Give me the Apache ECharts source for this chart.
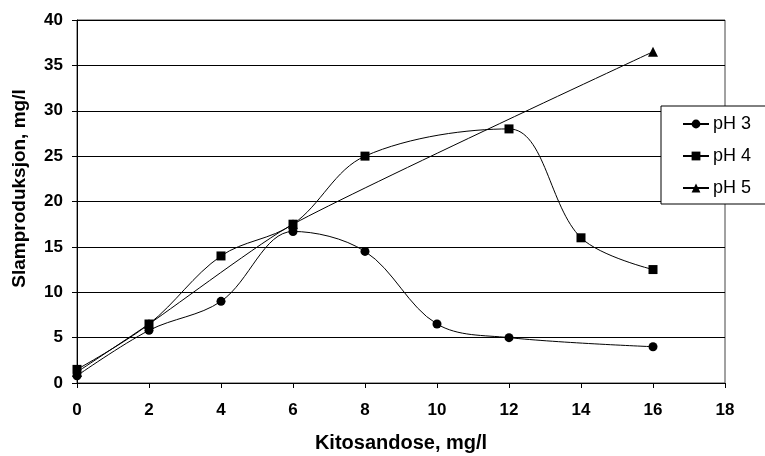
<!DOCTYPE html>
<html>
<head>
<meta charset="utf-8">
<script src="https://cdn.jsdelivr.net/npm/echarts@6/dist/echarts.min.js"></script>
<style>html,body{margin:0;padding:0;background:#fff}#c{width:765px;height:456px}</style>
</head>
<body>
<div id="c"></div>
<script>
var xTitle = 'Kitosandose, mg/l';
var yTitle = 'Slamproduksjon, mg/l';
var seriesNames = ['pH 3', 'pH 4', 'pH 5'];
var ph3X = [0, 2, 4, 6, 8, 10, 12, 16];
var ph3Y = [0.8, 5.8, 9, 16.7, 14.5, 6.5, 5, 4];
var ph4X = [0, 2, 4, 6, 8, 12, 14, 16];
var ph4Y = [1.5, 6.5, 14, 17.5, 25, 28, 16, 12.5];
var ph5X = [0, 2, 6, 16];
var ph5Y = [1.2, 6.5, 17.5, 36.5];

function pairs(xs, ys) { return xs.map(function (x, i) { return [x, ys[i]]; }); }

var chart = echarts.init(document.getElementById('c'));
var font = 'Arial, "Liberation Sans", sans-serif';
chart.setOption({
  animation: false,
  backgroundColor: '#fff',
  grid: { left: 77, right: 40, top: 20, bottom: 73, outerBoundsMode: 'none', containLabel: false,
          show: true, borderColor: '#444', borderWidth: 1, backgroundColor: 'transparent' },
  legend: {
    orient: 'vertical', left: 661, top: 106,
    backgroundColor: '#fff', borderColor: '#000', borderWidth: 1,
    padding: [9, 20, 7, 21], itemGap: 14, itemWidth: 26, itemHeight: 11,
    textStyle: { fontFamily: font, fontSize: 18, color: '#000', padding: [0, 0, 0, -1] },
    data: seriesNames
  },
  xAxis: {
    type: 'value', min: 0, max: 18, interval: 2,
    name: xTitle, nameLocation: 'middle', nameGap: 50,
    nameTextStyle: { fontFamily: font, fontSize: 20, fontWeight: 'bold', color: '#000' },
    axisLine: { show: true, lineStyle: { color: '#000', width: 1 } },
    axisTick: { show: true, length: 5, lineStyle: { color: '#000' } },
    axisLabel: { fontFamily: font, fontSize: 17, fontWeight: 'bold', color: '#000', margin: 19 },
    splitLine: { show: false }
  },
  yAxis: {
    type: 'value', min: 0, max: 40, interval: 5,
    name: yTitle, nameLocation: 'middle', nameGap: 48,
    nameTextStyle: { fontFamily: font, fontSize: 19, fontWeight: 'bold', color: '#000', padding: [0, 0, 0, 26] },
    axisLine: { show: true, lineStyle: { color: '#000', width: 1 } },
    axisTick: { show: true, length: 5, lineStyle: { color: '#000' } },
    axisLabel: { fontFamily: font, fontSize: 17, fontWeight: 'bold', color: '#000', margin: 14 },
    splitLine: { show: true, lineStyle: { color: '#000', width: 1 } }
  },
  series: [
    { name: seriesNames[0], type: 'line', smooth: 0.35, data: pairs(ph3X, ph3Y), symbol: 'circle', symbolSize: 9,
      itemStyle: { color: '#000' }, lineStyle: { color: '#000', width: 1 } },
    { name: seriesNames[1], type: 'line', smooth: 0.35, data: pairs(ph4X, ph4Y), symbol: 'rect', symbolSize: 9,
      itemStyle: { color: '#000' }, lineStyle: { color: '#000', width: 1 } },
    { name: seriesNames[2], type: 'line', smooth: 0.2, data: pairs(ph5X, ph5Y), symbol: 'triangle', symbolSize: 10,
      itemStyle: { color: '#000' }, lineStyle: { color: '#000', width: 1 } }
  ]
});
</script>
</body>
</html>
